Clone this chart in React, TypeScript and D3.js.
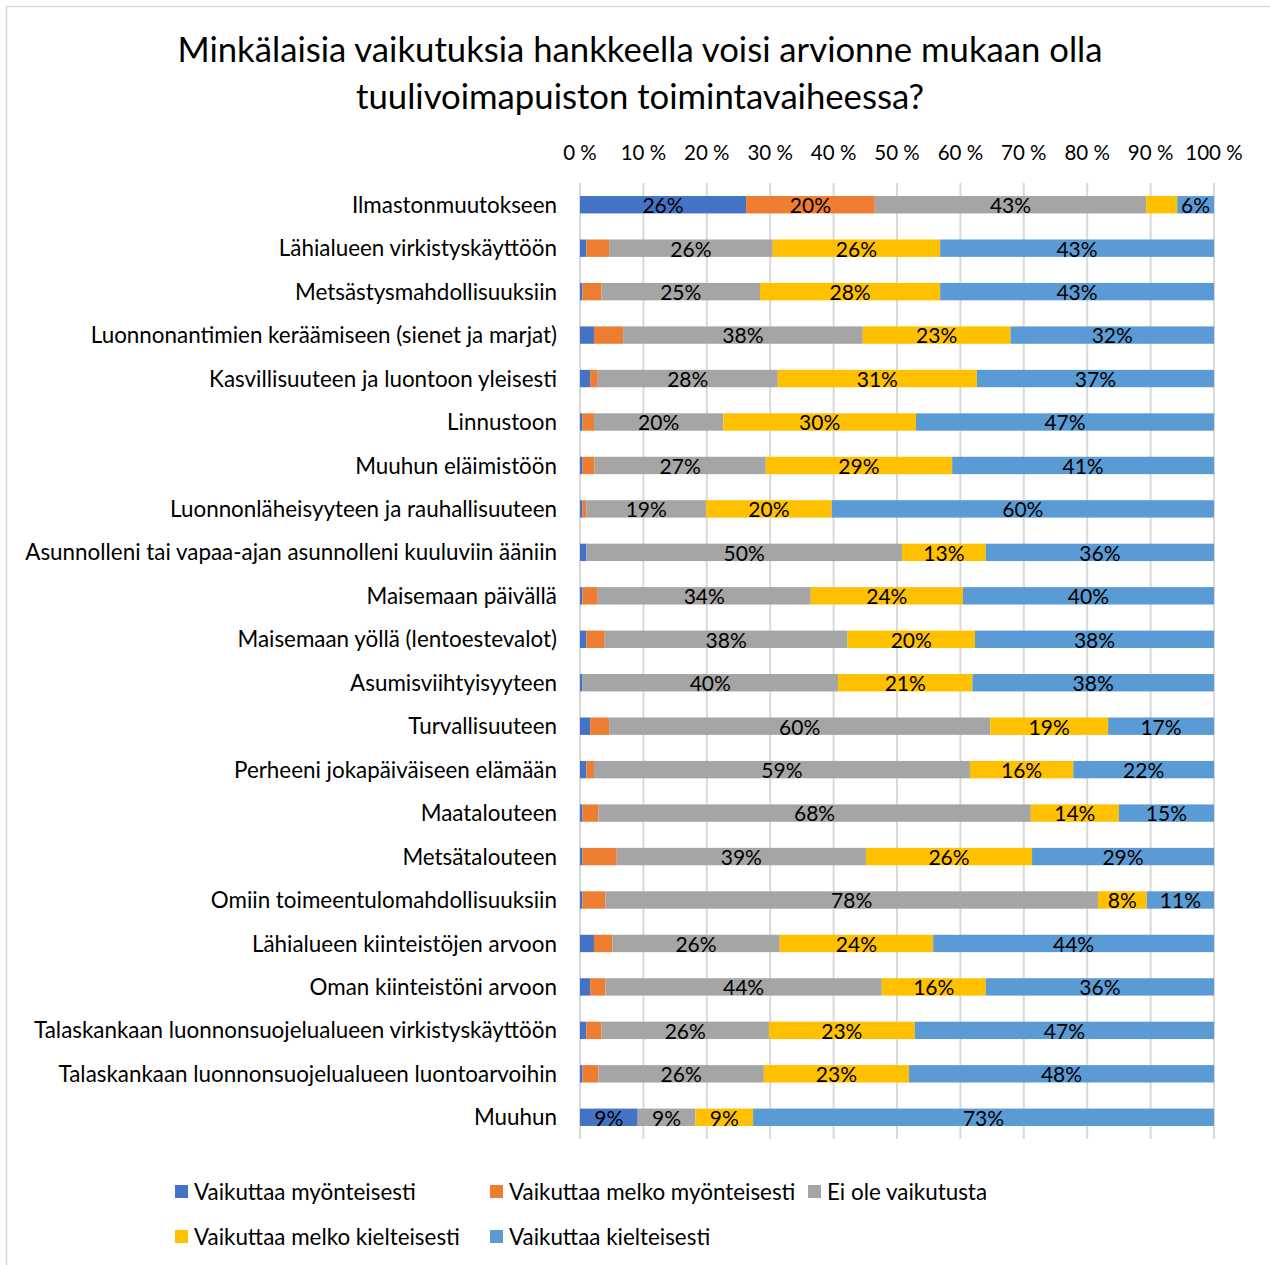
import React from "react";
import * as d3 from "d3";

const categories = [
  "Ilmastonmuutokseen",
  "Lähialueen virkistyskäyttöön",
  "Metsästysmahdollisuuksiin",
  "Luonnonantimien keräämiseen (sienet ja marjat)",
  "Kasvillisuuteen ja luontoon yleisesti",
  "Linnustoon",
  "Muuhun eläimistöön",
  "Luonnonläheisyyteen ja rauhallisuuteen",
  "Asunnolleni tai vapaa-ajan asunnolleni kuuluviin ääniin",
  "Maisemaan päivällä",
  "Maisemaan yöllä (lentoestevalot)",
  "Asumisviihtyisyyteen",
  "Turvallisuuteen",
  "Perheeni jokapäiväiseen elämään",
  "Maatalouteen",
  "Metsätalouteen",
  "Omiin toimeentulomahdollisuuksiin",
  "Lähialueen kiinteistöjen arvoon",
  "Oman kiinteistöni arvoon",
  "Talaskankaan luonnonsuojelualueen virkistyskäyttöön",
  "Talaskankaan luonnonsuojelualueen luontoarvoihin",
  "Muuhun",
];

const seriesNames = [
  "Vaikuttaa myönteisesti",
  "Vaikuttaa melko myönteisesti",
  "Ei ole vaikutusta",
  "Vaikuttaa melko kielteisesti",
  "Vaikuttaa kielteisesti",
];

const seriesColors = ["#4472C4", "#ED7D31", "#A5A5A5", "#FFC000", "#5B9BD5"];

const myonteisesti = [26.2, 1, 0.4, 2.2, 1.6, 0.4, 0.4, 0.4, 1, 0.4, 1, 0.4, 1.6, 1, 0.4, 0.4, 0.4, 2.2, 1.6, 1, 0.4, 9.1];
const melkoMyonteisesti = [20.3, 3.6, 3, 4.6, 1.2, 1.8, 1.9, 0.6, 0, 2.4, 2.9, 0, 3, 1.2, 2.5, 5.4, 3.6, 2.9, 2.4, 2.4, 2.5, 0];
const eiVaikutusta = [42.8, 25.8, 25, 37.8, 28.4, 20.4, 27, 18.9, 49.8, 33.6, 38.3, 40.3, 60.1, 59.3, 68.2, 39.3, 77.7, 26.4, 43.6, 26.4, 26.1, 9.1];
const melkoKielteisesti = [4.9, 26.4, 28.4, 23.3, 31.4, 30.4, 29.4, 19.8, 13.2, 24, 20.1, 21.2, 18.6, 16.3, 13.9, 26.2, 7.7, 24.2, 16.4, 23, 22.9, 9.1];
const kielteisesti = [5.8, 43.2, 43.2, 32.1, 37.4, 47, 41.3, 60.3, 36, 39.6, 37.7, 38.1, 16.7, 22.2, 15, 28.7, 10.6, 44.3, 36, 47.2, 48.1, 72.7];

const tickValues = [0, 10, 20, 30, 40, 50, 60, 70, 80, 90, 100];

const titleLines = [
  "Minkälaisia vaikutuksia hankkeella voisi arvionne mukaan olla",
  "tuulivoimapuiston toimintavaiheessa?",
];

const FONT = "Lato, 'Open Sans', sans-serif";

export default function App() {
  const W = 1270;
  const H = 1265;
  const x = d3.scaleLinear().domain([0, 100]).range([580, 1214]);
  const y = d3.scaleBand<string>().domain(categories).range([183, 1139]).paddingInner(0.6).paddingOuter(0.3);

  const rows = categories.map((c, i) => ({
    cat: c,
    v0: myonteisesti[i],
    v1: melkoMyonteisesti[i],
    v2: eiVaikutusta[i],
    v3: melkoKielteisesti[i],
    v4: kielteisesti[i],
  }));
  const keys = ["v0", "v1", "v2", "v3", "v4"];
  const stacked = d3.stack<any>().keys(keys)(rows);

  const legendItems = [
    { i: 0, x: 175, y: 1192 },
    { i: 1, x: 490, y: 1192 },
    { i: 2, x: 808, y: 1192 },
    { i: 3, x: 175, y: 1237 },
    { i: 4, x: 490, y: 1237 },
  ];

  return (
    <svg width={W} height={H} style={{ position: "absolute", left: 0, top: 0, background: "#fff" }} fontFamily={FONT}>
      <rect x={0} y={0} width={W} height={H} fill="#fff" />
      <rect x={6.5} y={6.5} width={1300} height={1300} fill="none" stroke="#d9d9d9" strokeWidth={1.5} />
      {titleLines.map((t, i) => (
        <text key={i} x={640} y={62 + i * 47} textAnchor="middle" fontSize={34.7} fill="#000">
          {t}
        </text>
      ))}
      {tickValues.map((t) => (
        <g key={t}>
          <line x1={x(t)} x2={x(t)} y1={183} y2={1139} stroke="#d9d9d9" strokeWidth={2} />
          <text x={x(t)} y={160} textAnchor="middle" fontSize={20.5} fill="#000">
            {t} %
          </text>
        </g>
      ))}
      {categories.map((c) => (
        <text key={c} x={557} y={(y(c) as number) + y.bandwidth() / 2} dy="0.36em" textAnchor="end" fontSize={22.4} fill="#000">
          {c}
        </text>
      ))}
      {stacked.map((s, si) => (
        <g key={si}>
          {s.map((d, di) => {
            const val = d[1] - d[0];
            if (val <= 0) return null;
            const x0 = x(d[0]);
            const x1 = x(d[1]);
            const yy = y(categories[di]) as number;
            return (
              <g key={di}>
                <rect x={x0} y={yy} width={x1 - x0} height={y.bandwidth()} fill={seriesColors[si]} />
                {val >= 5.5 && (
                  <text x={(x0 + x1) / 2} y={yy + y.bandwidth() / 2} dy="0.4em" textAnchor="middle" fontSize={21} fill="#000">
                    {Math.round(val)}%
                  </text>
                )}
              </g>
            );
          })}
        </g>
      ))}
      {legendItems.map((l) => (
        <g key={l.i}>
          <rect x={l.x} y={l.y - 7} width={13} height={13} fill={seriesColors[l.i]} />
          <text x={l.x + 19} y={l.y} dy="0.36em" fontSize={22.4} fill="#000">
            {seriesNames[l.i]}
          </text>
        </g>
      ))}
    </svg>
  );
}
